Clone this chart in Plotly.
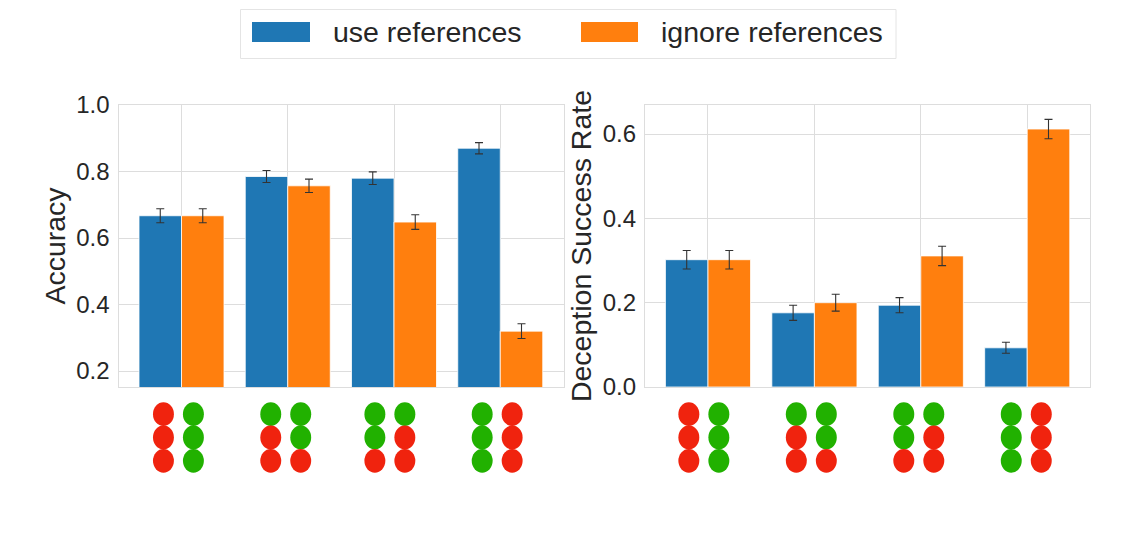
import plotly.graph_objects as go

W, H = 1136, 551
FONT = "Liberation Sans"
INK = "#262626"
GRID = "#dddddd"
BLUE = "#1f77b4"
ORANGE = "#ff7f0e"
RED = "#f0230e"
GREEN = "#21b100"

positions = [0, 1, 2, 3]
series_names = ["use references", "ignore references"]

accuracy_use = [0.667, 0.785, 0.780, 0.870]
accuracy_use_err = [0.021, 0.018, 0.019, 0.017]
accuracy_ignore = [0.667, 0.757, 0.648, 0.320]
accuracy_ignore_err = [0.021, 0.020, 0.022, 0.022]

deception_use = [0.302, 0.176, 0.194, 0.093]
deception_use_err = [0.022, 0.018, 0.018, 0.013]
deception_ignore = [0.302, 0.200, 0.311, 0.612]
deception_ignore_err = [0.022, 0.020, 0.023, 0.023]

# top-to-bottom dot colours for the two columns under each group
left_column = [["r", "r", "r"], ["g", "r", "r"], ["g", "g", "r"], ["g", "g", "g"]]
right_column = [["g", "g", "g"], ["g", "g", "r"], ["g", "r", "r"], ["r", "r", "r"]]

accuracy_dot_offsets = [-0.17, -0.16, -0.18, -0.17]
deception_dot_offsets = [-0.18, -0.17, -0.16, -0.15]
dot_gap = 0.282

X_RANGE_LEFT = [-0.593, 3.6]
X_RANGE_RIGHT = [-0.592, 3.59]


def px(v):
    return v / W


def py(v):
    return 1 - v / H


fig = go.Figure()


def add_bars(values_a, err_a, values_b, err_b, xa, ya):
    for name, vals, errs, col in [
        (series_names[0], values_a, err_a, BLUE),
        (series_names[1], values_b, err_b, ORANGE),
    ]:
        fig.add_trace(go.Bar(
            x=positions, y=vals, name=name, xaxis=xa, yaxis=ya,
            marker=dict(color=col, line=dict(color="white", width=0.8)),
            width=0.4, showlegend=False,
            error_y=dict(type="data", array=errs, color="#333333", thickness=1.1, width=4),
        ))


add_bars(accuracy_use, accuracy_use_err, accuracy_ignore, accuracy_ignore_err, "x", "y")
add_bars(deception_use, deception_use_err, deception_ignore, deception_ignore_err, "x2", "y2")

shapes = []
annotations = []


def add_dots(offsets, xa, ya):
    xs, ys = [], []
    hw, hh = 0.0985, 0.51
    for g, pos in enumerate(positions):
        for c, col in enumerate([left_column[g], right_column[g]]):
            cx = pos + offsets[g] + c * dot_gap
            for r, code in enumerate(col):
                xs.append(cx)
                ys.append(r)
                shapes.append(dict(
                    type="circle", xref=xa, yref=ya, layer="above",
                    x0=cx - hw, x1=cx + hw, y0=r - hh, y1=r + hh,
                    fillcolor=RED if code == "r" else GREEN, line=dict(width=0),
                ))
    fig.add_trace(go.Scatter(x=xs, y=ys, mode="markers", xaxis=xa, yaxis=ya,
                             marker=dict(size=1, opacity=0), showlegend=False, hoverinfo="skip"))


add_dots(accuracy_dot_offsets, "x3", "y3")
add_dots(deception_dot_offsets, "x4", "y4")

# legend box, built to keep its wide swatches
shapes.append(dict(type="rect", xref="paper", yref="paper", layer="above",
                   x0=px(240.5), x1=px(896), y0=py(58.5), y1=py(9.5),
                   fillcolor="white", line=dict(color="#e4e4e4", width=1)))
for x0, x1, col in [(252, 310, BLUE), (581, 638, ORANGE)]:
    shapes.append(dict(type="rect", xref="paper", yref="paper", layer="above",
                       x0=px(x0), x1=px(x1), y0=py(42), y1=py(22),
                       fillcolor=col, line=dict(width=0)))
for name, x0 in zip(series_names, [331, 659]):
    annotations.append(dict(text=name, xref="paper", yref="paper", x=px(x0), y=py(32),
                            xanchor="left", yanchor="middle", showarrow=False,
                            font=dict(family=FONT, size=28.5, color=INK)))

axis_common = dict(showline=True, mirror=True, linecolor=GRID, linewidth=1.3,
                   showgrid=True, gridcolor=GRID, gridwidth=1.3, zeroline=False)
x_common = dict(axis_common, tickvals=positions, showticklabels=False, ticks="")
y_common = dict(axis_common, ticks="", ticklabelstandoff=3,
                tickfont=dict(family=FONT, size=24, color=INK))
hidden = dict(visible=False, showgrid=False, zeroline=False)

fig.update_layout(
    width=W, height=H, autosize=False,
    margin=dict(l=0, r=0, t=0, b=0, autoexpand=False),
    paper_bgcolor="white", plot_bgcolor="white",
    barmode="group", bargap=0.2, bargroupgap=0,
    showlegend=False,
    font=dict(family=FONT, color=INK),
    shapes=shapes, annotations=annotations,
    xaxis=dict(x_common, domain=[px(118.5), px(564)], anchor="y", range=X_RANGE_LEFT),
    yaxis=dict(y_common, domain=[py(387), py(105)], anchor="x", range=[0.152, 1.0],
               tickvals=[0.2, 0.4, 0.6, 0.8, 1.0], ticktext=["0.2", "0.4", "0.6", "0.8", "1.0"],
               title=dict(text="Accuracy", standoff=2, font=dict(family=FONT, size=28.5, color=INK))),
    xaxis2=dict(x_common, domain=[px(645), px(1090)], anchor="y2", range=X_RANGE_RIGHT),
    yaxis2=dict(y_common, domain=[py(387), py(105)], anchor="x2", range=[0, 0.669],
                tickvals=[0, 0.2, 0.4, 0.6], ticktext=["0.0", "0.2", "0.4", "0.6"],
                title=dict(text="Deception Success Rate", standoff=2, font=dict(family=FONT, size=28.5, color=INK))),
    xaxis3=dict(hidden, domain=[px(118.5), px(564)], anchor="y3", range=X_RANGE_LEFT),
    yaxis3=dict(hidden, domain=[py(473), py(402)], anchor="x3", range=[2.52, -0.52]),
    xaxis4=dict(hidden, domain=[px(645), px(1090)], anchor="y4", range=X_RANGE_RIGHT),
    yaxis4=dict(hidden, domain=[py(473), py(402)], anchor="x4", range=[2.52, -0.52]),
)

fig.write_html("out.html", config={"displayModeBar": False},
               post_script="document.body.style.margin='0';")
